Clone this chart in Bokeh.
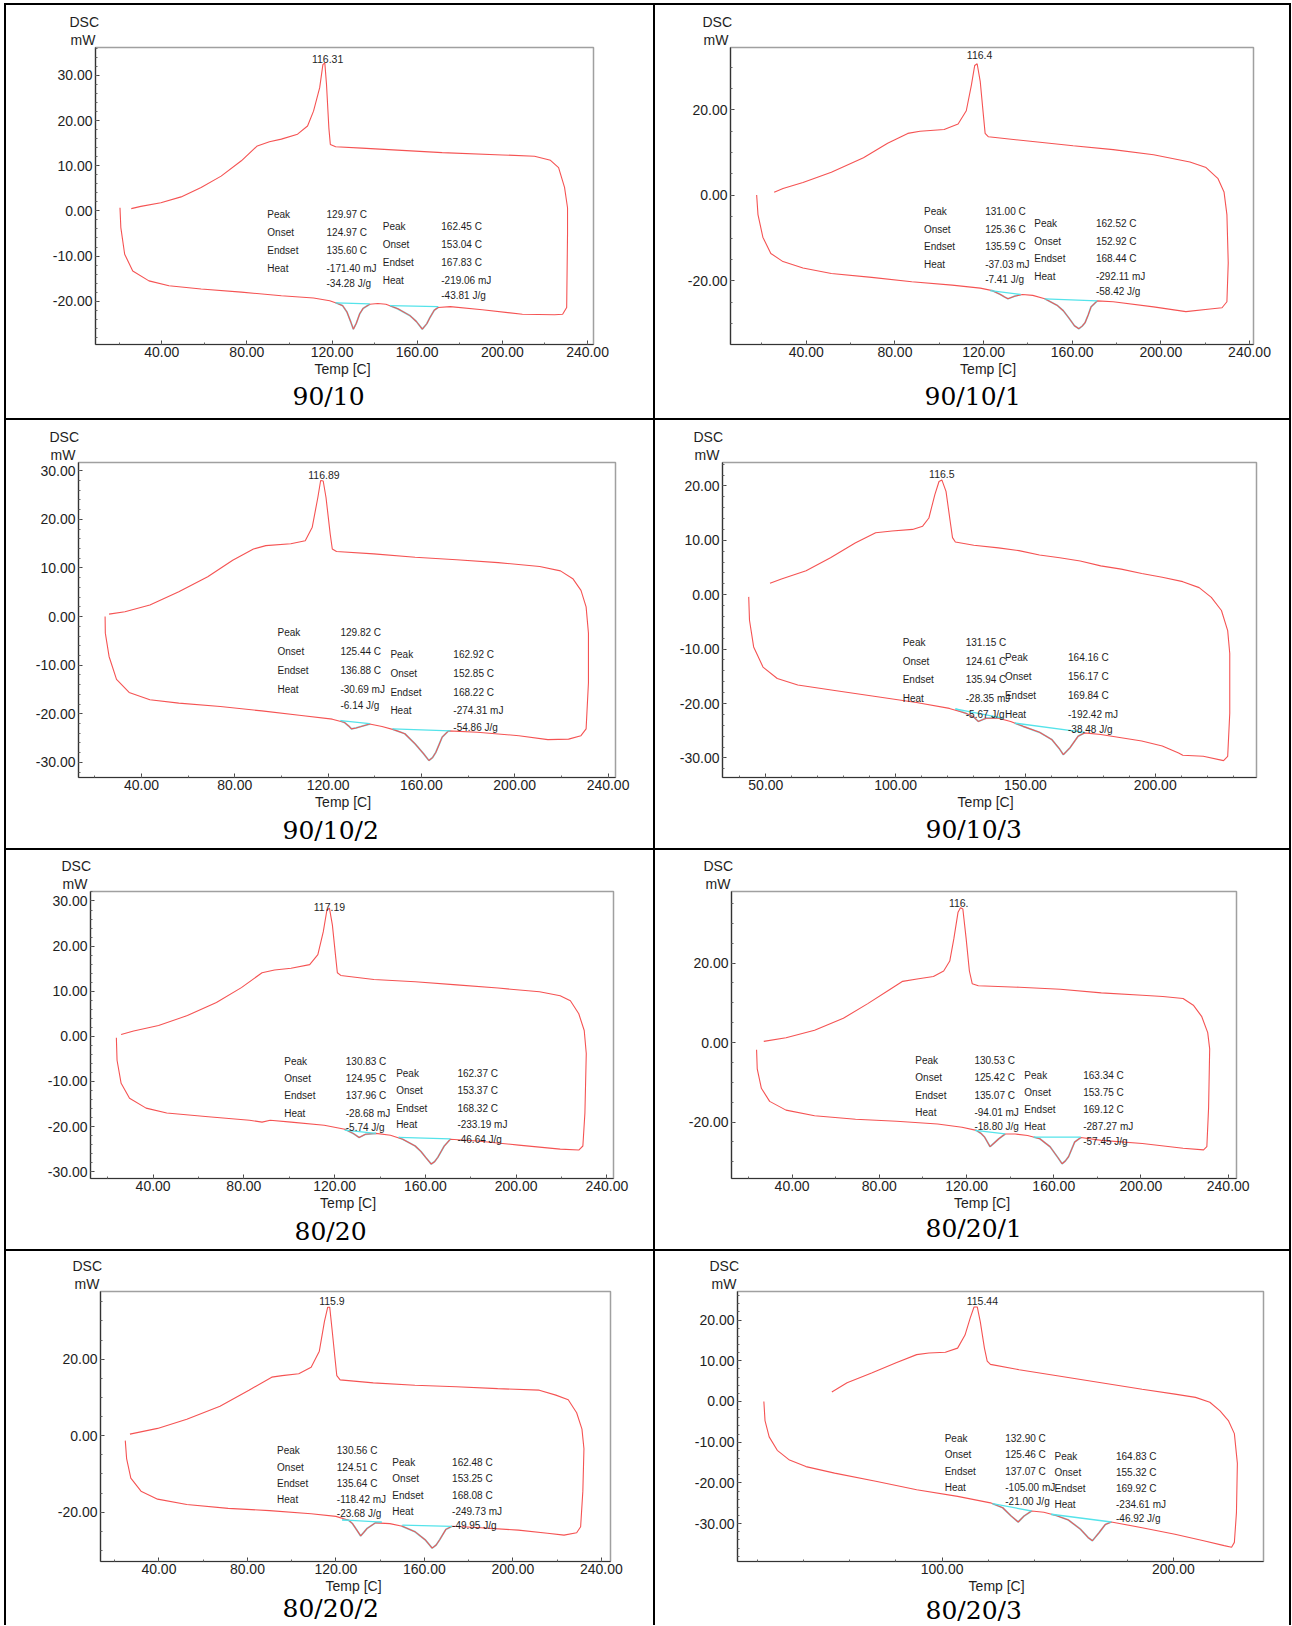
from bokeh.plotting import figure
from bokeh.models import Range1d, SingleIntervalTicker, PrintfTickFormatter, Title, Div
from bokeh.layouts import row, column
from bokeh.core.properties import value
from bokeh.embed import file_html
from bokeh.resources import INLINE

# ---------------- DATA ----------------
# each curve: list of (temperature C, heat flow mW)
P1_HEAT = [(20.4,0.7),(20.8,-3.7),(22.6,-9.6),(26.4,-13.3),(34.0,-15.5),(43.4,-16.6),(58.5,-17.3),(77.4,-18.0),(96.2,-18.8),(111.3,-19.3),(118.9,-19.9),(122.6,-20.5),(125.0,-21.0),(127.0,-22.4),(128.8,-24.6),(130.0,-26.2),(131.4,-24.9),(133.0,-22.8),(134.6,-21.6),(137.7,-20.7),(141.5,-20.5),(145.3,-20.7),(150.9,-21.7),(156.6,-23.2),(159.6,-24.5),(162.4,-26.2),(164.5,-25.0),(166.0,-23.6),(168.0,-22.0),(169.8,-21.4),(175.5,-21.2),(190.6,-21.9),(209.4,-22.9),(224.5,-23.0),(228.3,-22.9)]
P1_COOL = [(230.2,-21.4),(230.6,-5.2),(230.6,0.7),(229.2,5.2),(226.4,9.6),(222.6,11.2),(215.1,12.1),(200.0,12.4),(171.7,12.9),(152.8,13.4),(134.0,13.9),(121.7,14.2),(119.2,14.7),(118.5,18.4),(117.4,28.0),(116.6,32.8),(115.7,32.4),(114.2,27.3),(111.3,22.1),(108.5,18.8),(103.8,17.0),(96.2,15.9),(90.6,15.3),(84.9,14.4),(77.4,11.1),(67.9,7.7),(58.5,5.2),(49.1,3.1),(39.6,1.8),(30.2,1.0),(25.7,0.5)]

P2_HEAT = [(17.6,0.1),(18.2,-4.5),(20.4,-9.8),(24.0,-13.6),(29.5,-15.5),(38.5,-17.0),(51.3,-18.3),(69.5,-19.2),(87.6,-20.2),(105.8,-21.0),(118.5,-21.7),(124.0,-22.3),(127.6,-23.2),(129.5,-23.8),(131.0,-24.2),(132.5,-23.9),(134.0,-23.6),(137.6,-23.2),(142.2,-23.4),(147.6,-24.2),(153.1,-25.7),(156.0,-27.0),(158.5,-28.7),(161.0,-30.5),(163.0,-31.2),(164.5,-30.6),(165.8,-29.8),(167.2,-28.0),(168.5,-26.1),(171.3,-24.7),(178.5,-24.9),(196.7,-26.1),(211.3,-27.2),(222.2,-26.6),(227.6,-26.3)]
P2_COOL = [(229.8,-24.9),(230.4,-15.8),(229.8,-4.5),(228.5,0.8),(225.8,3.9),(220.4,6.5),(213.1,7.8),(196.7,9.5),(178.5,10.7),(160.4,11.6),(142.2,12.6),(122.2,13.7),(120.7,14.5),(120.0,18.3),(118.5,26.6),(117.1,30.8),(116.0,30.4),(114.5,25.8),(112.2,19.8),(108.5,16.7),(102.2,15.4),(91.3,15.0),(85.8,14.5),(76.7,12.2),(65.8,8.8),(51.3,5.4),(38.5,3.0),(29.5,1.6),(25.5,0.7)]

P3_HEAT = [(24.4,0.0),(24.5,-3.4),(26.1,-8.2),(29.3,-12.9),(34.7,-15.6),(43.6,-17.1),(56.0,-17.8),(73.8,-18.5),(91.6,-19.4),(107.6,-20.3),(121.8,-21.1),(127.1,-21.8),(128.8,-22.5),(130.0,-23.1),(132.0,-22.9),(134.2,-22.6),(137.8,-22.1),(143.1,-22.6),(148.4,-23.3),(152.9,-24.1),(157.3,-26.2),(160.9,-28.2),(163.2,-29.6),(164.8,-29.0),(166.2,-27.9),(167.6,-26.3),(168.9,-24.8),(171.6,-23.5),(184.0,-23.8),(201.8,-24.5),(214.2,-25.3),(223.1,-25.2),(228.4,-24.5)]
P3_COOL = [(230.6,-23.1),(231.6,-13.6),(231.6,-3.4),(230.6,2.0),(228.4,5.4),(224.9,7.8),(219.6,9.4),(210.7,10.3),(192.9,11.1),(175.1,11.7),(157.3,12.2),(139.6,12.9),(123.6,13.4),(121.8,13.9),(120.9,17.0),(119.1,24.5),(117.9,27.9),(116.8,28.0),(115.6,24.5),(113.2,18.4),(110.2,15.6),(104.0,15.0),(93.3,14.6),(88.0,13.9),(79.1,11.6),(68.4,8.2),(56.0,5.1),(43.6,2.4),(32.9,1.0),(26.1,0.5)]

P4_HEAT = [(43.4,-0.4),(43.7,-4.7),(45.3,-9.6),(48.9,-13.3),(54.4,-15.4),(62.3,-16.6),(76.5,-17.6),(92.3,-18.7),(108.0,-19.8),(120.7,-20.9),(127.0,-21.8),(130.1,-22.5),(131.8,-23.3),(134.9,-22.7),(139.6,-22.7),(144.3,-23.3),(149.1,-24.2),(155.4,-25.3),(160.1,-26.6),(163.2,-28.4),(164.6,-29.4),(167.2,-28.1),(170.3,-26.0),(172.7,-25.4),(179.0,-25.7),(186.9,-26.3),(194.8,-26.9),(202.7,-27.8),(209.0,-29.1),(210.6,-29.5),(218.5,-29.7),(226.3,-30.5)]
P4_COOL = [(227.9,-29.7),(228.7,-21.8),(228.7,-10.8),(227.9,-6.6),(225.5,-2.9),(221.6,-0.5),(216.9,1.3),(210.6,2.4),(202.7,3.2),(194.8,3.9),(186.9,4.7),(179.0,5.3),(171.1,6.2),(163.2,6.8),(155.4,7.3),(147.5,8.1),(139.6,8.6),(130.1,9.1),(123.0,9.7),(121.9,10.5),(121.0,13.5),(119.4,19.0),(117.8,21.1),(116.7,20.8),(115.1,18.4),(112.8,14.1),(110.4,12.6),(106.5,12.0),(98.6,11.7),(92.3,11.4),(84.4,9.5),(74.9,6.8),(65.5,4.4),(56.0,2.9),(51.6,2.1)]

P5_HEAT = [(23.8,-0.3),(24.1,-5.3),(25.9,-10.4),(29.6,-13.7),(36.9,-15.9),(46.0,-17.0),(64.3,-17.8),(82.5,-18.6),(88.0,-19.0),(91.6,-18.6),(100.8,-19.0),(115.4,-19.7),(124.5,-20.6),(128.1,-21.5),(130.8,-22.4),(133.6,-21.7),(138.2,-21.5),(144.6,-21.9),(150.0,-22.8),(155.5,-24.3),(158.0,-25.5),(160.1,-26.8),(162.6,-28.3),(164.0,-27.8),(165.5,-26.8),(168.3,-24.3),(171.0,-22.8),(182.9,-23.2),(201.1,-24.1),(219.4,-25.0),(227.6,-25.2)]
P5_COOL = [(229.4,-24.3),(230.3,-17.0),(230.9,-3.8),(230.0,1.3),(227.6,5.0),(223.9,7.9),(219.4,9.0),(210.3,9.9),(192.0,10.7),(173.8,11.4),(155.5,12.1),(137.3,12.6),(122.7,13.5),(121.2,14.1),(120.5,17.4),(119.0,24.7),(117.7,28.4),(116.6,28.0),(115.0,23.2),(112.6,18.1),(109.0,15.9),(100.8,15.1),(93.5,14.7),(88.0,14.1),(78.9,10.8),(67.9,7.5),(55.1,4.6),(42.4,2.4),(31.4,1.2),(25.9,0.4)]

P6_HEAT = [(23.7,-1.8),(24.0,-6.6),(25.9,-11.5),(29.7,-14.8),(37.2,-17.0),(50.3,-18.4),(69.1,-19.3),(87.9,-19.8),(106.7,-20.5),(117.9,-21.3),(124.5,-22.1),(126.5,-22.8),(128.3,-23.8),(130.8,-26.2),(132.8,-25.2),(134.8,-24.2),(137.7,-23.0),(142.3,-23.0),(148.0,-23.4),(153.6,-24.2),(158.3,-26.2),(162.1,-29.1),(163.8,-30.5),(165.3,-29.8),(166.8,-28.7),(169.6,-25.0),(172.4,-23.9),(181.8,-24.6),(200.6,-25.4),(219.3,-26.6),(228.7,-27.0)]
P6_COOL = [(230.2,-26.2),(231.0,-16.4),(231.5,-1.6),(230.6,2.5),(227.8,6.6),(224.0,9.4),(219.3,11.1),(210.0,11.6),(200.6,11.9),(181.8,12.5),(163.0,13.4),(144.2,13.9),(125.4,14.3),(122.6,14.8),(121.3,18.0),(119.8,26.2),(118.3,33.6),(117.2,33.9),(116.1,32.8),(114.2,26.2),(112.3,20.5),(109.5,18.0),(104.8,16.6),(97.3,16.0),(90.7,15.4),(84.1,13.1),(74.7,9.8),(63.5,6.1),(50.3,3.1),(37.2,1.2),(27.0,0.3)]

P7_HEAT = [(24.8,-1.3),(25.4,-6.0),(27.3,-11.1),(31.9,-14.5),(39.4,-16.6),(52.6,-18.0),(71.3,-19.0),(90.0,-19.6),(108.8,-20.4),(120.0,-21.1),(125.7,-22.1),(127.5,-23.0),(129.0,-24.3),(131.2,-26.2),(132.6,-25.3),(134.0,-24.3),(137.8,-22.8),(144.4,-23.0),(150.0,-23.7),(155.7,-25.1),(160.3,-27.2),(163.5,-29.4),(165.3,-28.6),(166.9,-27.2),(169.7,-24.5),(172.5,-23.7),(183.8,-24.0),(202.5,-24.7),(215.6,-25.5),(223.1,-26.0),(228.8,-25.4)]
P7_COOL = [(230.6,-23.8),(231.6,-14.5),(232.1,-3.4),(231.2,1.7),(228.8,6.0),(225.0,9.4),(219.4,10.6),(211.9,11.9),(193.1,12.3),(174.4,12.8),(155.7,13.2),(136.9,13.8),(121.9,14.6),(120.4,15.7),(119.7,19.6),(118.2,28.1),(117.2,33.6),(116.3,33.6),(114.8,29.8),(112.5,22.1),(108.8,17.9),(103.2,16.2),(95.7,15.7),(91.0,15.3),(80.7,11.9),(67.6,7.7),(52.6,4.3),(39.4,1.9),(26.9,0.4)]

P8_HEAT = [(22.9,0.0),(23.4,-4.7),(25.2,-8.7),(28.7,-12.0),(34.0,-14.4),(41.1,-16.0),(53.5,-17.6),(71.3,-19.6),(89.0,-21.7),(106.7,-23.3),(120.9,-24.9),(126.2,-26.1),(129.8,-28.1),(132.9,-29.6),(135.5,-28.1),(138.7,-26.9),(144.0,-27.2),(149.3,-28.0),(154.6,-29.1),(159.9,-31.4),(163.1,-33.4),(165.0,-34.2),(167.9,-32.2),(170.6,-30.2),(173.2,-29.6),(186.5,-31.0),(200.7,-32.6),(213.1,-34.2),(222.0,-35.4),(225.2,-35.8)]
P8_COOL = [(226.4,-34.6),(227.3,-27.3),(227.7,-15.2),(226.4,-7.9),(223.8,-4.7),(220.2,-2.3),(215.8,-0.2),(209.6,1.0),(200.7,1.8),(186.5,3.0),(168.8,4.6),(151.1,6.2),(133.3,7.8),(120.9,9.1),(119.5,9.9),(118.3,13.1),(116.5,19.6),(115.2,23.2),(113.8,23.2),(112.1,20.4),(109.9,16.3),(106.7,13.1),(101.4,12.1),(94.3,11.9),(89.0,11.5),(80.1,9.5),(69.5,7.0),(58.9,4.6),(52.3,2.3)]

# integration baselines for the two melting peaks: ((T0, mW0), (T1, mW1))
BASELINES = {
    1: [((121.7,-20.4),(137.7,-20.6)), ((147.2,-21.0),(169.8,-21.2))],
    2: [((123.1,-22.3),(136.7,-23.2)), ((147.6,-24.2),(171.3,-24.7))],
    3: [((125.3,-21.4),(137.8,-22.0)), ((147.6,-23.1),(172.4,-23.5))],
    4: [((123.0,-21.0),(141.2,-22.7)), ((145.9,-23.6),(172.7,-25.3))],
    5: [((124.5,-20.8),(138.2,-21.5)), ((148.2,-22.4),(171.0,-22.7))],
    6: [((124.0,-22.1),(137.7,-23.0)), ((150.8,-23.8),(172.4,-23.8))],
    7: [((122.8,-22.0),(140.7,-22.6)), ((150.0,-23.4),(172.5,-23.7))],
    8: [((121.8,-25.1),(138.7,-26.9)), ((147.2,-27.7),(173.2,-29.6))],
}

SAMPLE_NAMES = ["90/10", "90/10/1", "90/10/2", "90/10/3", "80/20", "80/20/1", "80/20/2", "80/20/3"]
PEAK_LABELS = ["116.31", "116.4", "116.89", "116.5", "117.19", "116.", "115.9", "115.44"]
ROW_NAMES = ["Peak", "Onset", "Endset", "Heat"]
PEAK1_VALUES = [
    ["129.97 C", "124.97 C", "135.60 C", "-171.40 mJ", "-34.28 J/g"],
    ["131.00 C", "125.36 C", "135.59 C", "-37.03 mJ", "-7.41 J/g"],
    ["129.82  C", "125.44  C", "136.88  C", "-30.69  mJ", "-6.14  J/g"],
    ["131.15  C", "124.61  C", "135.94  C", "-28.35  mJ", "-5.67  J/g"],
    ["130.83  C", "124.95  C", "137.96  C", "-28.68  mJ", "-5.74  J/g"],
    ["130.53  C", "125.42  C", "135.07  C", "-94.01  mJ", "-18.80  J/g"],
    ["130.56  C", "124.51  C", "135.64  C", "-118.42  mJ", "-23.68  J/g"],
    ["132.90  C", "125.46  C", "137.07  C", "-105.00  mJ", "-21.00  J/g"],
]
PEAK2_VALUES = [
    ["162.45 C", "153.04 C", "167.83 C", "-219.06 mJ", "-43.81 J/g"],
    ["162.52 C", "152.92 C", "168.44 C", "-292.11 mJ", "-58.42 J/g"],
    ["162.92  C", "152.85  C", "168.22  C", "-274.31  mJ", "-54.86  J/g"],
    ["164.16  C", "156.17  C", "169.84  C", "-192.42  mJ", "-38.48  J/g"],
    ["162.37  C", "153.37  C", "168.32  C", "-233.19  mJ", "-46.64  J/g"],
    ["163.34  C", "153.75  C", "169.12  C", "-287.27  mJ", "-57.45  J/g"],
    ["162.48  C", "153.25  C", "168.08  C", "-249.73  mJ", "-49.95  J/g"],
    ["164.83  C", "155.32  C", "169.92  C", "-234.61  mJ", "-46.92  J/g"],
]
CURVES = [(P1_HEAT, P1_COOL), (P2_HEAT, P2_COOL), (P3_HEAT, P3_COOL), (P4_HEAT, P4_COOL),
          (P5_HEAT, P5_COOL), (P6_HEAT, P6_COOL), (P7_HEAT, P7_COOL), (P8_HEAT, P8_COOL)]

# ---------------- LAYOUT / STYLE ----------------
PAGE_LEFT, PAGE_TOP = 4, 3
COL_X = [6, 655]
COL_W = [647, 634]
ROW_Y = [5, 420, 850, 1251]
ROW_H = [413, 428, 399, 374]
TOTAL_W = 2 + COL_W[0] + 2 + COL_W[1] + 2

# per panel: frame box (abs px), axis ranges, tickers, caption positions (abs px), table anchors (data)
PANEL_LAYOUT = [
    dict(frame=(95, 593, 47, 344), xr=(8.9, 242.8), yr=(-29.6, 36.2), xt=(40, 2), yt=(10, 5),
         dsc_x=69, mw_x=70, title=(328, 394), xlabel="Temp  [C]", peak=(117.9, 33.6),
         t1=(89.6, 117.4, [-0.7, -4.7, -8.7, -12.7, -16.1]), t2=(143.8, 171.3, [-3.5, -7.5, -11.5, -15.5, -18.8])),
    dict(frame=(730, 1253, 44, 350), xr=(5.8, 241.8), yr=(-34.9, 34.6), xt=(40, 2), yt=(20, 4),
         dsc_x=702, mw_x=703, title=(972, 402), xlabel="Temp   [C]", peak=(118.2, 32.8),
         t1=(93.1, 120.7, [-3.7, -7.9, -12.0, -16.2, -19.8]), t2=(142.9, 170.7, [-6.5, -10.7, -14.8, -19.0, -22.5])),
    dict(frame=(78, 615, 461, 777), xr=(13.0, 243.2), yr=(-33.1, 31.7), xt=(40, 2), yt=(10, 5),
         dsc_x=49, mw_x=50, title=(330, 833), xlabel="Temp   [C]", peak=(118.2, 29.1),
         t1=(98.3, 125.3, [-3.3, -7.1, -11.0, -15.0, -18.2]), t2=(146.7, 173.7, [-7.8, -11.7, -15.6, -19.4, -22.8])),
    dict(frame=(722, 1256, 462, 779), xr=(33.3, 239.0), yr=(-33.6, 24.3), xt=(50, 5), yt=(10, 5),
         dsc_x=693, mw_x=694, title=(973, 833), xlabel="Temp   [C]", peak=(117.8, 22.1),
         t1=(102.7, 127.0, [-8.7, -12.2, -15.6, -19.1, -22.1]), t2=(142.1, 166.4, [-11.6, -15.0, -18.5, -22.0, -24.8])),
    dict(frame=(90, 613, 888, 1178), xr=(12.4, 242.9), yr=(-31.5, 32.1), xt=(40, 2), yt=(10, 5),
         dsc_x=61, mw_x=62, title=(330, 1229), xlabel="Temp   [C]", peak=(117.7, 28.7),
         t1=(97.8, 124.9, [-5.5, -9.3, -13.2, -17.0, -20.2]), t2=(147.1, 174.1, [-8.2, -12.0, -15.9, -19.5, -22.8])),
    dict(frame=(731, 1236, 891, 1184), xr=(12.2, 243.8), yr=(-34.2, 38.0), xt=(40, 2), yt=(20, 4),
         dsc_x=703, mw_x=705, title=(973, 1234), xlabel="Temp  [C]", peak=(116.4, 35.2),
         t1=(96.5, 123.6, [-4.5, -8.9, -13.2, -17.5, -21.1]), t2=(146.5, 173.5, [-8.2, -12.5, -16.9, -21.1, -25.0])),
    dict(frame=(100, 610, 1291, 1567), xr=(13.6, 244.1), yr=(-32.9, 37.7), xt=(40, 2), yt=(20, 4),
         dsc_x=72, mw_x=74, title=(330, 1617), xlabel="Temp  [C]", peak=(118.2, 35.3),
         t1=(93.4, 120.4, [-4.0, -8.3, -12.5, -16.7, -20.3]), t2=(145.5, 172.5, [-7.0, -11.2, -15.7, -19.7, -23.4])),
    dict(frame=(737, 1263, 1288, 1561), xr=(11.5, 239.0), yr=(-39.3, 27.0), xt=(100, 5), yt=(10, 5),
         dsc_x=709, mw_x=711, title=(973, 1608), xlabel="Temp   [C]", peak=(117.4, 24.6),
         t1=(101.1, 127.3, [-9.0, -13.0, -17.1, -21.1, -24.5]), t2=(148.6, 175.2, [-13.4, -17.4, -21.4, -25.3, -28.8])),
]

RED = "#f55353"
CYAN = "#55e3ea"
SANS = "Liberation Sans"
SERIF = "DejaVu Serif"
TITLE_PX = 25


def serif_width(txt):
    # approximate advance widths of DejaVu Serif (digits 0.636 em, slash 0.337 em)
    return sum((0.337 if ch == "/" else 0.636) for ch in txt) * TITLE_PX


def make_panel(i):
    lay = PANEL_LAYOUT[i]
    col, rw = i % 2, i // 2
    fx, fy, fw, fh = COL_X[col], ROW_Y[rw], COL_W[col], ROW_H[rw]
    l, r, t, b = lay["frame"]
    mbb = fy + fh - b
    p = figure(width=fw, height=fh, x_range=Range1d(*lay["xr"]), y_range=Range1d(*lay["yr"]),
               output_backend="svg", toolbar_location=None, title_location=None,
               min_border_left=l - fx, min_border_right=fx + fw - r,
               min_border_top=t - fy, min_border_bottom=mbb)
    p.background_fill_color = "white"
    p.border_fill_color = "white"
    p.outline_line_color = "#a0a0a0"
    p.outline_line_width = 1.5
    p.xgrid.visible = False
    p.ygrid.visible = False

    p.xaxis.ticker = SingleIntervalTicker(interval=lay["xt"][0], num_minor_ticks=lay["xt"][1])
    p.yaxis.ticker = SingleIntervalTicker(interval=lay["yt"][0], num_minor_ticks=lay["yt"][1])
    for ax in (p.xaxis[0], p.yaxis[0]):
        ax.formatter = PrintfTickFormatter(format="%.2f")
        ax.major_label_text_font = SANS
        ax.major_label_text_font_size = "14px"
        ax.major_label_text_color = "#1e1e1e"
        ax.axis_line_color = "#333333"
        ax.axis_line_width = 1.2
        ax.major_tick_line_color = "#444444"
        ax.minor_tick_line_color = "#666666"
        ax.major_tick_in = 4
        ax.major_tick_out = 0
        ax.minor_tick_in = 2
        ax.minor_tick_out = 0
    p.xaxis.major_label_standoff = 2
    p.yaxis.major_label_standoff = 3
    p.xaxis.axis_label = lay["xlabel"]
    p.xaxis.axis_label_text_font = SANS
    p.xaxis.axis_label_text_font_size = "14px"
    p.xaxis.axis_label_text_font_style = "normal"
    p.xaxis.axis_label_text_color = "#1e1e1e"
    p.xaxis.axis_label_standoff = 1

    heat, cool = CURVES[i]

    # integrated peak outline (cyan, drawn under the red trace)
    for (x0, y0), (x1, y1) in BASELINES[i + 1]:
        seg = [pt for pt in heat if x0 <= pt[0] <= x1]
        p.line([x0] + [pt[0] for pt in seg] + [x1], [y0] + [pt[1] for pt in seg] + [y1],
               line_color=CYAN, line_width=1.8, line_alpha=0.8)

    xs = [pt[0] for pt in heat] + [pt[0] for pt in cool]
    ys = [pt[1] for pt in heat] + [pt[1] for pt in cool]
    p.line(xs, ys, line_color=RED, line_width=1.1)

    # integration baselines
    for (x0, y0), (x1, y1) in BASELINES[i + 1]:
        p.line([x0, x1], [y0, y1], line_color=CYAN, line_width=1.3)

    # crystallisation peak temperature
    p.text(x=[lay["peak"][0]], y=[lay["peak"][1]], text=[PEAK_LABELS[i]],
           text_font=value(SANS), text_font_size="10.5px", text_color="#1e1e1e",
           text_align="center", text_baseline="middle")

    # result tables
    for (lx, vx, rows_y), vals in ((lay["t1"], PEAK1_VALUES[i]), (lay["t2"], PEAK2_VALUES[i])):
        p.text(x=[lx] * 4, y=rows_y[:4], text=ROW_NAMES, text_font=value(SANS),
               text_font_size="10px", text_color="#1e1e1e", text_align="left", text_baseline="middle")
        p.text(x=[vx] * 5, y=rows_y, text=vals, text_font=value(SANS),
               text_font_size="10px", text_color="#1e1e1e", text_align="left", text_baseline="middle")

    # "DSC / mW" caption above the y axis (mW closest to the frame)
    p.add_layout(Title(text="mW", align="left", offset=lay["mw_x"] - l, standoff=0,
                       text_font=SANS, text_font_size="14px", text_font_style="normal",
                       text_color="#1e1e1e"), "above")
    p.add_layout(Title(text="DSC", align="left", offset=lay["dsc_x"] - l, standoff=0,
                       text_font=SANS, text_font_size="14px", text_font_style="normal",
                       text_color="#1e1e1e"), "above")

    # sample name under the axis label
    tx, ty = lay["title"]
    name = SAMPLE_NAMES[i]
    sd = min(2 * ((ty - b) - 50), mbb - 68)
    p.add_layout(Title(text=name, align="left", offset=round(tx - l - serif_width(name) / 2),
                       standoff=sd, text_font=SERIF, text_font_size=f"{TITLE_PX}px",
                       text_font_style="normal", text_color="#000000"), "below")
    return p


def hline():
    return Div(text="", width=TOTAL_W, height=2, margin=0, styles={"background-color": "#000000"})


def vline(h):
    return Div(text="", width=2, height=h, margin=0, styles={"background-color": "#000000"})


items = [hline()]
for rw in range(4):
    h = ROW_H[rw]
    items.append(row(vline(h), make_panel(2 * rw), vline(h), make_panel(2 * rw + 1), vline(h),
                     spacing=0, margin=0))
    if rw < 3:
        items.append(hline())
layout = column(*items, spacing=0, margin=(PAGE_TOP, 0, 0, PAGE_LEFT))

open("out.html", "w").write(file_html(layout, INLINE))
